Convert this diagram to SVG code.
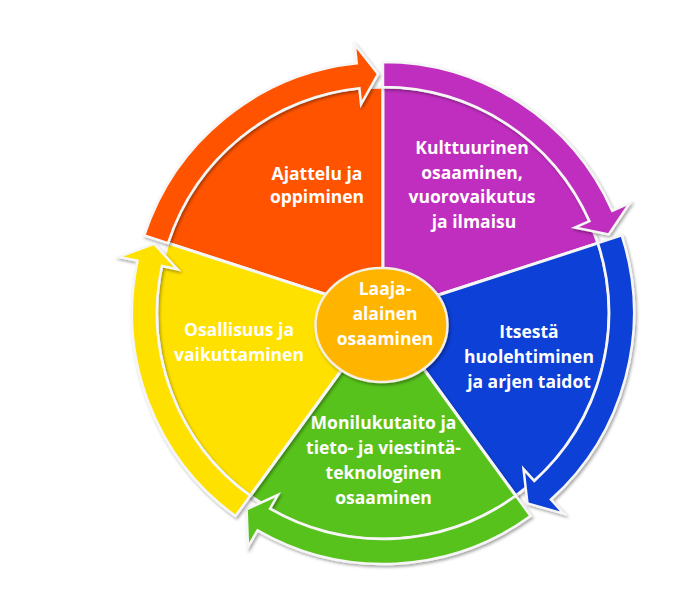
<svg xmlns="http://www.w3.org/2000/svg" xmlns:xlink="http://www.w3.org/1999/xlink" width="698" height="597" viewBox="0 0 698 597">
  <style>
    .edge { stroke: #f6f6f6; stroke-width: 3; stroke-linejoin: round; }
    .band { stroke: #f6f6f6; stroke-width: 2.5; stroke-linejoin: miter; }
    .lbl { font-family: "Open Sans", "Liberation Sans", sans-serif; font-weight: bold; font-size: 17.5px; fill: #ffffff; text-anchor: middle; }
  </style>
  <defs>
    <filter id="sh" x="-10%" y="-10%" width="125%" height="125%">
      <feDropShadow dx="1.5" dy="2" stdDeviation="1.6" flood-color="#000" flood-opacity="0.35"/>
    </filter>
    <path id="wedge" d="M383 313 L168.06 243.16 A226 226 0 0 1 383 87 Z"/>
    <path id="arrow" d="M144.28 235.44 A251 251 0 0 1 356.76 63.38 L354.78 44.48 L378.0 74.05 L361.05 104.15 L359.38 88.24 A226 226 0 0 0 168.06 243.16 Z"/>
  </defs>
  <rect width="698" height="597" fill="#ffffff"/>

  <g id="ajattelu">
    <g filter="url(#sh)"><use href="#wedge" class="edge" fill="#FF5200"/></g>
    <text class="lbl" x="317" y="180">Ajattelu ja</text>
    <text class="lbl" x="317" y="203">oppiminen</text>
  </g>
  <g id="kulttuurinen">
    <g filter="url(#sh)"><use href="#wedge" class="edge" fill="#BF2DBE" transform="rotate(72 383 313)"/></g>
    <text class="lbl" x="472" y="154">Kulttuurinen</text>
    <text class="lbl" x="472" y="178.5">osaaminen,</text>
    <text class="lbl" x="472" y="203">vuorovaikutus</text>
    <text class="lbl" x="474" y="228">ja ilmaisu</text>
  </g>
  <g id="itsesta">
    <g filter="url(#sh)"><use href="#wedge" class="edge" fill="#0B3FD6" transform="rotate(144 383 313)"/></g>
    <text class="lbl" x="529" y="337.5">Itsestä</text>
    <text class="lbl" x="529" y="362.5">huolehtiminen</text>
    <text class="lbl" x="529" y="387.5">ja arjen taidot</text>
  </g>
  <g id="monilukutaito">
    <g filter="url(#sh)"><use href="#wedge" class="edge" fill="#58C21C" transform="rotate(216 383 313)"/></g>
    <text class="lbl" x="383.5" y="429">Monilukutaito ja</text>
    <text class="lbl" x="383.5" y="454">tieto- ja viestintä-</text>
    <text class="lbl" x="383.5" y="479">teknologinen</text>
    <text class="lbl" x="383.5" y="504">osaaminen</text>
  </g>
  <g id="osallisuus">
    <g filter="url(#sh)"><use href="#wedge" class="edge" fill="#FFE100" transform="rotate(288 383 313)"/></g>
    <text class="lbl" x="239" y="335.5">Osallisuus ja</text>
    <text class="lbl" x="239" y="360.5">vaikuttaminen</text>
  </g>

  <g id="connectors">
    <g filter="url(#sh)"><use href="#arrow" class="band" fill="#FF5200"/></g>
    <g filter="url(#sh)"><use href="#arrow" class="band" fill="#BF2DBE" transform="rotate(72 383 313)"/></g>
    <g filter="url(#sh)"><use href="#arrow" class="band" fill="#0B3FD6" transform="rotate(144 383 313)"/></g>
    <g filter="url(#sh)"><use href="#arrow" class="band" fill="#58C21C" transform="rotate(216 383 313)"/></g>
    <g filter="url(#sh)"><use href="#arrow" class="band" fill="#FFE100" transform="rotate(288 383 313)"/></g>
  </g>

  <g id="laaja-alainen">
    <ellipse cx="381.5" cy="325" rx="66" ry="57" fill="#FFB400" stroke="#f3efe2" stroke-width="2.5" filter="url(#sh)"/>
    <text class="lbl" x="385" y="295">Laaja-</text>
    <text class="lbl" x="385" y="320">alainen</text>
    <text class="lbl" x="385" y="345">osaaminen</text>
  </g>
</svg>
